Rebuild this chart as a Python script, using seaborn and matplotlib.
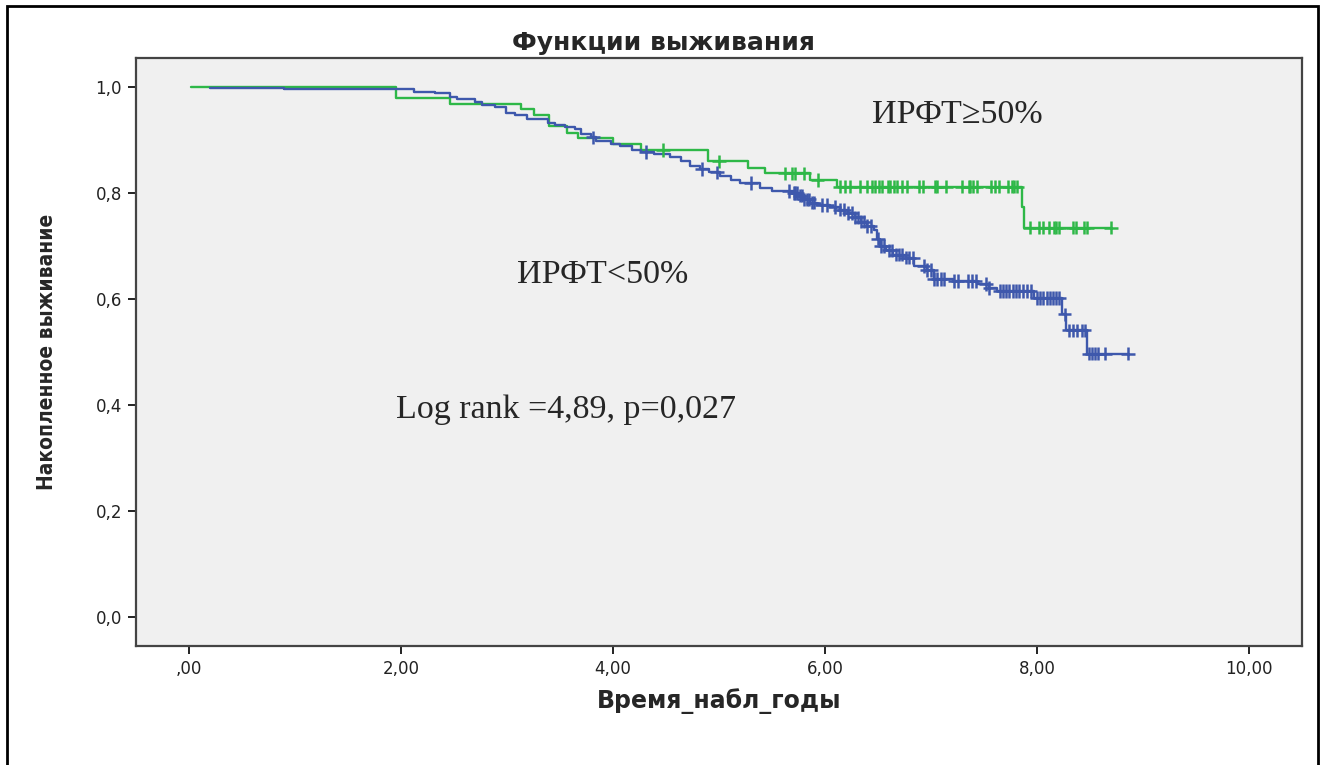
import numpy as np
import pandas as pd
import matplotlib
matplotlib.use('Agg')
import matplotlib.pyplot as plt
import seaborn as sns
from matplotlib.patches import Rectangle

# ИРФТ>=50% : event times / survival after the event
high_times = [0.02, 1.95, 2.46, 3.13, 3.25, 3.40, 3.57, 3.67, 4.00, 4.26, 4.90,
              5.27, 5.43, 5.86, 6.11, 7.86, 7.88]
high_surv = [1.000, 0.980, 0.969, 0.958, 0.947, 0.927, 0.914, 0.904, 0.892, 0.881,
             0.860, 0.848, 0.837, 0.825, 0.812, 0.773, 0.735]
high_end = 8.70
high_censored = [4.47, 5.00, 5.62, 5.69, 5.72, 5.80, 5.93, 6.14, 6.19, 6.24, 6.33,
                 6.40, 6.44, 6.47, 6.51, 6.54, 6.59, 6.61, 6.65, 6.68, 6.73, 6.77,
                 6.89, 6.92, 7.04, 7.06, 7.14, 7.29, 7.36, 7.37, 7.40, 7.43, 7.57,
                 7.60, 7.64, 7.73, 7.76, 7.78, 7.81, 7.93, 8.02, 8.06, 8.11, 8.16,
                 8.18, 8.21, 8.34, 8.37, 8.44, 8.47, 8.70]

# ИРФТ<50%
low_times = [0.20, 0.90, 2.12, 2.32, 2.46, 2.53, 2.70, 2.76, 2.89, 2.99, 3.08,
             3.19, 3.39, 3.45, 3.55, 3.64, 3.70, 3.79, 3.84, 3.98, 4.07, 4.18,
             4.26, 4.39, 4.54, 4.64, 4.73, 4.82, 4.91, 5.01, 5.11, 5.20, 5.39,
             5.50, 5.71, 5.76, 5.80, 5.86, 5.92, 6.05, 6.14, 6.22, 6.28, 6.34,
             6.40, 6.46, 6.49, 6.52, 6.58, 6.64, 6.76, 6.84, 6.96, 7.03, 7.21,
             7.43, 7.55, 7.62, 7.97, 8.24, 8.27, 8.47]
low_surv = [0.999, 0.996, 0.991, 0.988, 0.982, 0.977, 0.972, 0.966, 0.962, 0.952,
            0.947, 0.940, 0.933, 0.929, 0.925, 0.921, 0.911, 0.905, 0.898, 0.892,
            0.888, 0.881, 0.878, 0.873, 0.869, 0.861, 0.851, 0.845, 0.839, 0.832,
            0.825, 0.819, 0.810, 0.804, 0.800, 0.795, 0.788, 0.782, 0.777, 0.774,
            0.769, 0.762, 0.754, 0.746, 0.738, 0.731, 0.714, 0.700, 0.692, 0.684,
            0.678, 0.662, 0.655, 0.638, 0.634, 0.628, 0.621, 0.615, 0.602, 0.571,
            0.541, 0.497]
low_end = 8.86
low_censored = [3.81, 4.31, 4.84, 4.98, 5.30, 5.66, 5.71, 5.72, 5.74, 5.76, 5.78,
                5.80, 5.83, 5.85, 5.88, 5.90, 5.97, 6.02, 6.09, 6.14, 6.18, 6.22,
                6.25, 6.28, 6.31, 6.34, 6.37, 6.40, 6.43, 6.50, 6.53, 6.56, 6.60,
                6.63, 6.67, 6.70, 6.73, 6.76, 6.79, 6.83, 6.93, 6.96, 7.00, 7.03,
                7.06, 7.09, 7.12, 7.22, 7.25, 7.35, 7.39, 7.42, 7.52, 7.55, 7.65,
                7.68, 7.71, 7.74, 7.77, 7.80, 7.83, 7.87, 7.91, 7.94, 8.00, 8.03,
                8.06, 8.09, 8.12, 8.15, 8.18, 8.21, 8.26, 8.30, 8.34, 8.38, 8.42,
                8.45, 8.49, 8.52, 8.55, 8.58, 8.64, 8.86]

groups = ['high', 'low']
colors = {'high': '#2EB848', 'low': '#3E58AC'}

x_ticks = [0, 2, 4, 6, 8, 10]
x_ticklabels = [',00', '2,00', '4,00', '6,00', '8,00', '10,00']
y_ticks = [0.0, 0.2, 0.4, 0.6, 0.8, 1.0]
y_ticklabels = ['0,0', '0,2', '0,4', '0,6', '0,8', '1,0']


def step_frame(name, times, surv, end):
    t = list(times) + [end]
    s = list(surv) + [surv[-1]]
    return pd.DataFrame({'time': t, 'surv': s, 'group': name})


def censor_frame(name, times, surv, cens):
    idx = np.searchsorted(np.array(times), np.array(cens), side='right') - 1
    return pd.DataFrame({'time': cens, 'surv': np.array(surv)[idx], 'group': name})


steps = pd.concat([step_frame('high', high_times, high_surv, high_end),
                   step_frame('low', low_times, low_surv, low_end)])
cens = pd.concat([censor_frame('high', high_times, high_surv, high_censored),
                  censor_frame('low', low_times, low_surv, low_censored)])

sns.set_style('ticks')
plt.rcParams['font.family'] = ['DejaVu Sans']

fig = plt.figure(figsize=(13.26, 7.65), dpi=100)
ax = fig.add_axes([136 / 1326, 1 - 646 / 765, (1302 - 136) / 1326, (646 - 58) / 765])
ax.set_facecolor('#F0F0F0')

sns.lineplot(data=steps, x='time', y='surv', hue='group', palette=colors,
             hue_order=groups, estimator=None, drawstyle='steps-post',
             linewidth=1.7, legend=False, ax=ax)
sns.scatterplot(data=cens, x='time', y='surv', hue='group', palette=colors,
                hue_order=groups, marker='+', s=95, linewidth=1.8,
                legend=False, ax=ax, zorder=3)

ax.set_xlim(-0.5, 10.5)
ax.set_ylim(-0.055, 1.055)
ax.set_xticks(x_ticks)
ax.set_xticklabels(x_ticklabels)
ax.set_yticks(y_ticks)
ax.set_yticklabels(y_ticklabels)
ax.tick_params(axis='both', length=6, width=1.3, color='#111111',
               labelsize=12, labelcolor='#222222', pad=4)
ax.set_xlabel('')
ax.set_ylabel('')
for sp in ax.spines.values():
    sp.set_visible(True)
    sp.set_color('#444444')
    sp.set_linewidth(1.6)

serif = ['Liberation Serif', 'DejaVu Serif']
ax.text(6.44, 0.932, 'ИРФТ≥50%', family=serif, fontsize=24.5, ha='left', va='baseline')
ax.text(3.09, 0.631, 'ИРФТ<50%', family=serif, fontsize=24.5, ha='left', va='baseline')
ax.text(1.95, 0.376, 'Log rank =4,89, p=0,027', family=serif, fontsize=24.5,
        ha='left', va='baseline')

fig.text(0.5, 1 - 50 / 765, 'Функции выживания', fontsize=18, fontweight='bold',
         ha='center', va='baseline')
fig.text(719 / 1326, 1 - 708 / 765, 'Время_набл_годы', fontsize=17, fontweight='bold',
         ha='center', va='baseline')
fig.text(47 / 1326, 1 - 352 / 765, 'Накопленное выживание', rotation=90,
         family=['DejaVu Sans'], fontstretch='condensed',
         fontsize=15, fontweight='bold', ha='center', va='center')

fig.add_artist(Rectangle((6.5 / 1326, -0.05), (1317.5 - 6.5) / 1326, 1.05 - 6.5 / 765,
                         transform=fig.transFigure, fill=False, ec='black', lw=2,
                         clip_on=False))

fig.savefig('out.png', dpi=100, facecolor='white')
